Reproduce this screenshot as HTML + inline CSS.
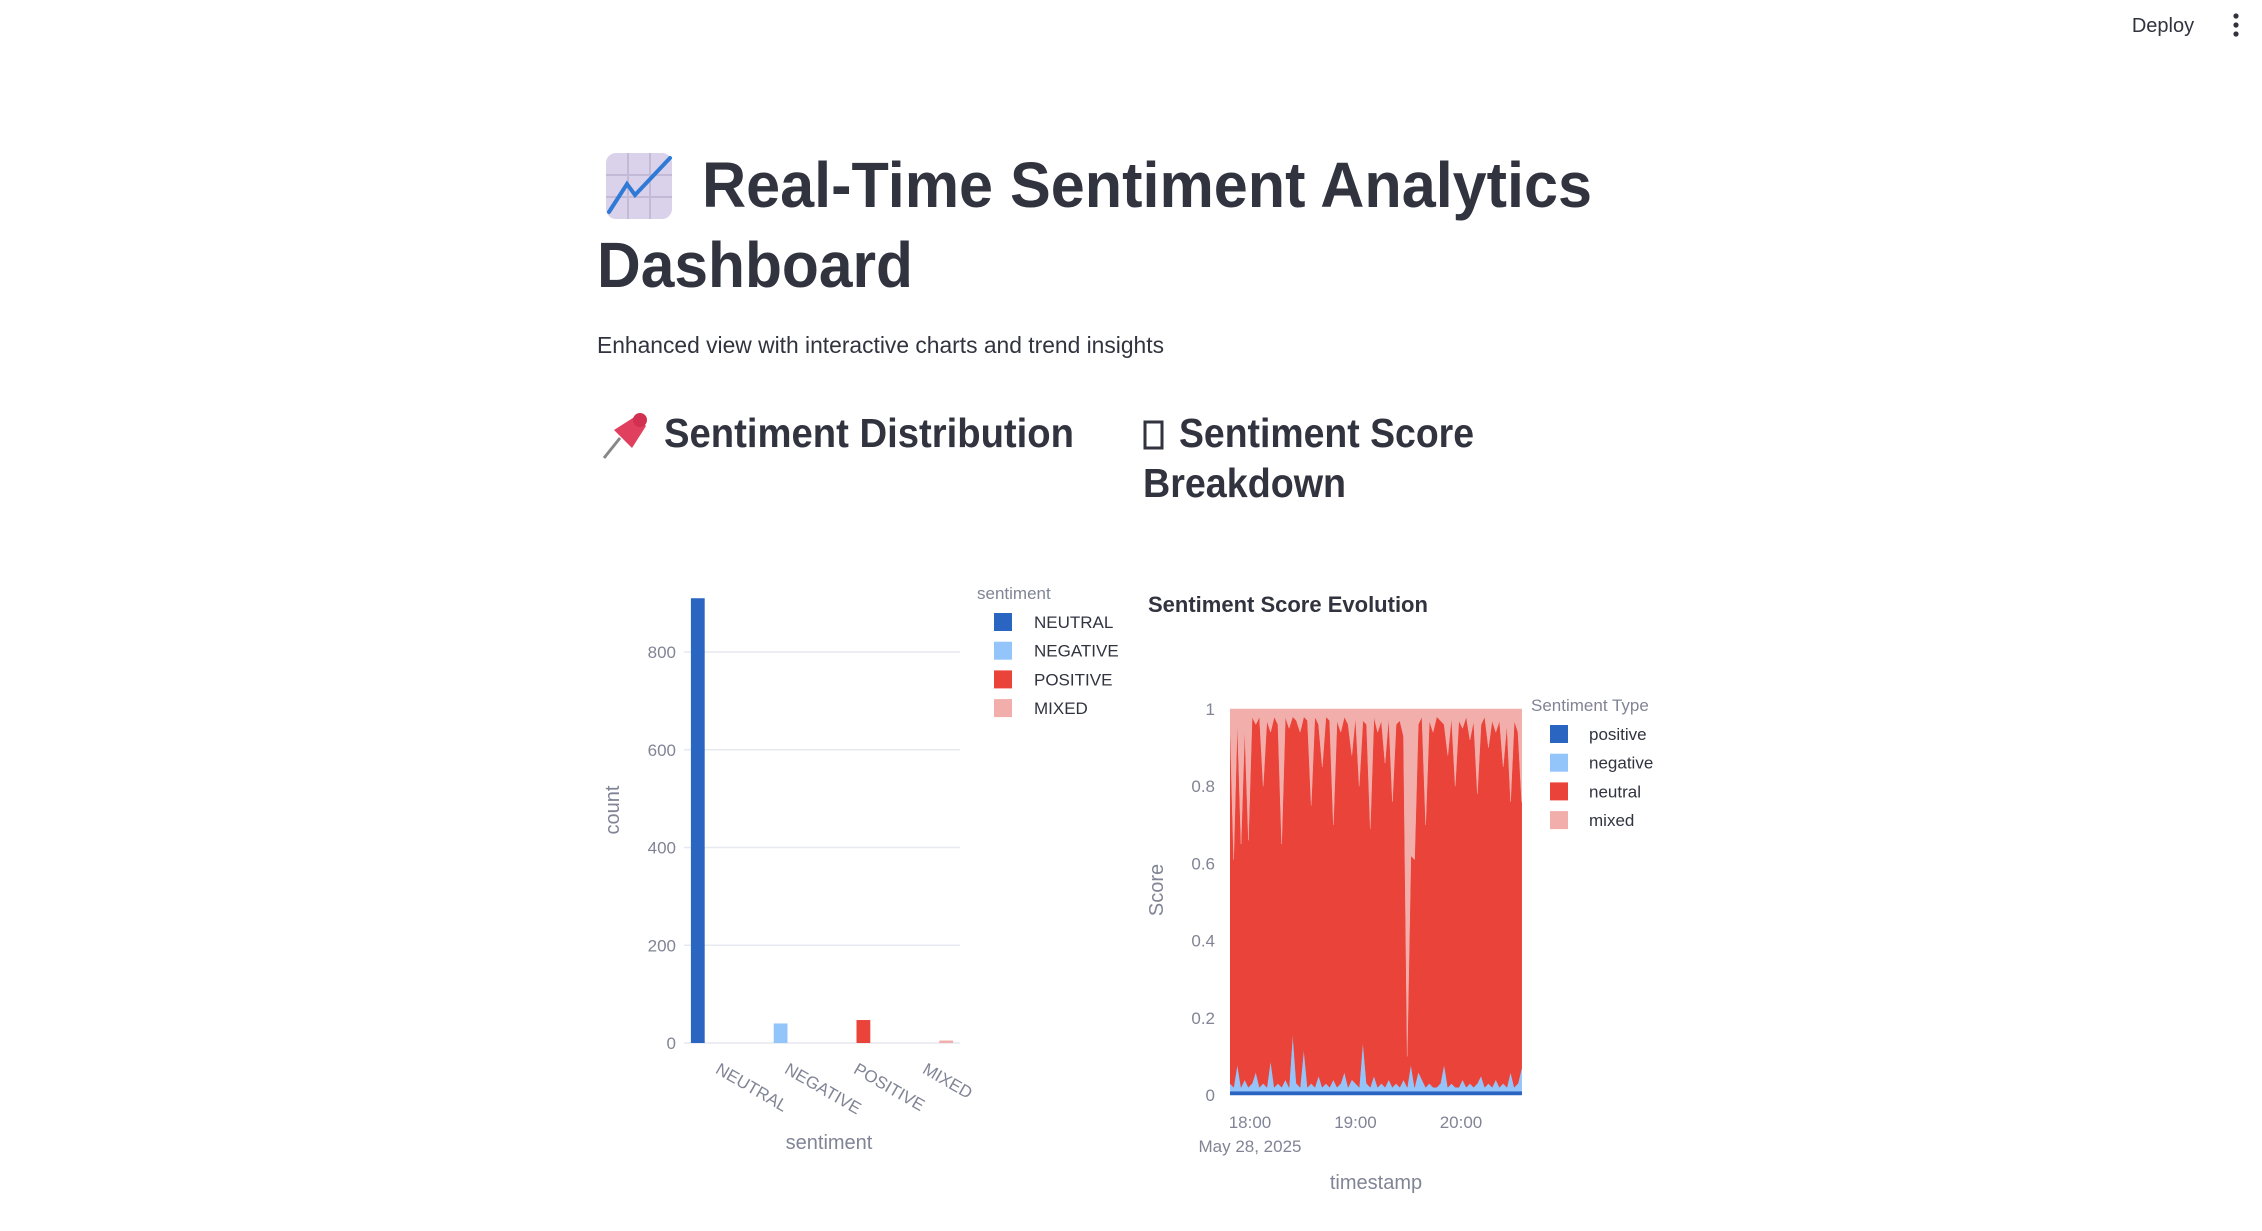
<!DOCTYPE html>
<html><head><meta charset="utf-8"><style>
html,body{margin:0;padding:0;background:#fff;width:2262px;height:1231px;overflow:hidden}
svg{display:block}
text{font-family:"Liberation Sans","DejaVu Sans",sans-serif}
</style></head><body>
<svg id="page" width="2262" height="1231" viewBox="0 0 2262 1231" xmlns="http://www.w3.org/2000/svg">
  <text x="2163" y="32" font-size="20" fill="#31333f" text-anchor="middle">Deploy</text>
  <g fill="#31333f">
    <circle cx="2236" cy="16" r="2.6"/><circle cx="2236" cy="25" r="2.6"/><circle cx="2236" cy="34" r="2.6"/>
  </g>
  <g>
    <rect x="606" y="153" width="66" height="66" rx="10" fill="#d9d2ea"/>
    <path d="M628 153V219M650 153V219M606 175H672M606 197H672" stroke="#c3bad8" stroke-width="2"/>
    <path d="M609 212L627 184L635 195L670 158" stroke="#2f7ad6" stroke-width="4" fill="none" stroke-linecap="round"/>
  </g>
  <text x="702" y="207" font-size="64" font-weight="bold" fill="#31333f" textLength="890" lengthAdjust="spacingAndGlyphs">Real-Time Sentiment Analytics</text>
  <text x="597" y="287" font-size="64" font-weight="bold" fill="#31333f" textLength="316" lengthAdjust="spacingAndGlyphs">Dashboard</text>
  <text x="597" y="353" font-size="23" fill="#31333f" textLength="567" lengthAdjust="spacingAndGlyphs">Enhanced view with interactive charts and trend insights</text>
  <g>
    <line x1="604" y1="458" x2="620" y2="438" stroke="#888" stroke-width="3"/>
    <path d="M614 430L636 416L646 426L632 448Z" fill="#e0405d"/>
    <circle cx="640" cy="420" r="7" fill="#d13050"/>
  </g>
  <text x="664" y="447" font-size="41" font-weight="bold" fill="#31333f" textLength="410" lengthAdjust="spacingAndGlyphs">Sentiment Distribution</text>
  <rect x="1145" y="422" width="17" height="26" fill="none" stroke="#31333f" stroke-width="3"/>
  <text x="1179" y="447" font-size="41" font-weight="bold" fill="#31333f" textLength="295" lengthAdjust="spacingAndGlyphs">Sentiment Score</text>
  <text x="1143" y="497" font-size="41" font-weight="bold" fill="#31333f" textLength="203" lengthAdjust="spacingAndGlyphs">Breakdown</text>

  <g id="bar-chart"></g>
  <g id="area-chart"></g>
</svg>
<script>
const barCategories = ["NEUTRAL","NEGATIVE","POSITIVE","MIXED"];
const barCounts = [910, 40, 47, 5];
const barColors = ["#2b65c2","#93c5fb","#ea4339","#f2aeab"];
const barTicks = [0,200,400,600,800];

const areaSeriesNames = ["positive","negative","neutral","mixed"];
const areaStart = "2025-05-28T17:48:36";
const areaStepMinutes = 2.1;
const positiveScores = [0.01,0.01,0.01,0.01,0.01,0.01,0.01,0.01,0.01,0.01,0.01,0.01,0.01,0.01,0.01,0.01,0.01,0.01,0.01,0.01,0.01,0.01,0.01,0.01,0.01,0.01,0.01,0.01,0.01,0.01,0.01,0.01,0.01,0.01,0.01,0.01,0.01,0.01,0.01,0.01,0.01,0.01,0.01,0.01,0.01,0.01,0.01,0.01,0.01,0.01,0.01,0.01,0.01,0.01,0.01,0.01,0.01,0.01,0.01,0.01,0.01,0.01,0.01,0.01,0.01,0.01,0.01,0.01,0.01,0.01,0.01,0.01,0.01,0.01,0.01,0.01,0.01,0.01,0.01,0.01];
const negativeScores = [0.02,0.01,0.07,0.01,0.03,0.01,0.02,0.05,0.01,0.02,0.01,0.08,0.01,0.02,0.01,0.03,0.01,0.15,0.02,0.01,0.11,0.01,0.02,0.01,0.04,0.01,0.02,0.01,0.03,0.01,0.02,0.05,0.01,0.03,0.02,0.01,0.13,0.02,0.01,0.04,0.01,0.02,0.01,0.03,0.01,0.02,0.01,0.03,0.01,0.07,0.01,0.05,0.03,0.01,0.02,0.01,0.01,0.02,0.07,0.01,0.02,0.01,0.01,0.03,0.01,0.02,0.01,0.02,0.04,0.01,0.02,0.01,0.03,0.01,0.02,0.01,0.05,0.01,0.02,0.06];
const neutralScores = [0.94,0.59,0.89,0.63,0.91,0.64,0.95,0.90,0.96,0.77,0.95,0.85,0.96,0.93,0.63,0.94,0.93,0.82,0.94,0.92,0.86,0.95,0.72,0.96,0.91,0.83,0.95,0.95,0.66,0.95,0.91,0.92,0.94,0.84,0.95,0.78,0.83,0.93,0.67,0.93,0.92,0.94,0.84,0.94,0.74,0.93,0.95,0.89,0.08,0.54,0.59,0.90,0.94,0.68,0.94,0.92,0.96,0.94,0.88,0.86,0.95,0.78,0.95,0.91,0.96,0.89,0.95,0.75,0.91,0.96,0.87,0.95,0.90,0.95,0.82,0.94,0.70,0.95,0.91,0.69];
const mixedScores = [0.03,0.39,0.03,0.35,0.05,0.34,0.02,0.04,0.02,0.20,0.03,0.06,0.02,0.04,0.35,0.02,0.05,0.02,0.03,0.06,0.02,0.03,0.25,0.02,0.04,0.15,0.02,0.03,0.30,0.03,0.06,0.02,0.04,0.12,0.02,0.20,0.03,0.04,0.31,0.02,0.06,0.03,0.14,0.02,0.24,0.04,0.03,0.07,0.90,0.38,0.39,0.04,0.02,0.30,0.03,0.06,0.02,0.03,0.04,0.12,0.02,0.20,0.03,0.05,0.02,0.08,0.03,0.22,0.04,0.02,0.10,0.03,0.06,0.03,0.15,0.04,0.24,0.03,0.06,0.24];
const areaColors = ["#2b65c2","#93c5fb","#ea4339","#f2aeab"];
const areaYTicks = [0,0.2,0.4,0.6,0.8,1];
const areaXTicks = ["2025-05-28T18:00:00","2025-05-28T19:00:00","2025-05-28T20:00:00"];
const areaXTickLabels = ["18:00","19:00","20:00"];

const NS="http://www.w3.org/2000/svg";
function mk(parent, tag, attrs, text){
  const e=document.createElementNS(NS,tag);
  for(const k in attrs) e.setAttribute(k,attrs[k]);
  if(text!==undefined) e.textContent=text;
  parent.appendChild(e); return e;
}
const AX="#808495";

// ---------- bar chart ----------
(function(){
  const g=document.getElementById('bar-chart');
  const L=684,R=960,B=1043,Y800=652;
  const y=v=>B-v*((B-Y800)/800);
  const catW=(R-L)/barCategories.length;
  const slotW=catW*0.8/barCategories.length;
  barTicks.forEach(t=>{
    const gl=mk(g,'line',{x1:L,x2:R,y1:y(t),y2:y(t),stroke:'#e6e9ef','stroke-width':1.5});
    
    
    const tl=mk(g,'text',{x:676,y:y(t)+6,'font-size':17,fill:AX,'text-anchor':'end'},String(t));
    
    
  });
  barCategories.forEach((c,i)=>{
    const cx=L+catW*(i+0.5);
    const x0=cx-catW*0.4+slotW*i;
    const r=mk(g,'rect',{x:x0,y:y(barCounts[i]),width:slotW,height:B-y(barCounts[i]),fill:barColors[i]});
    
    
    const tl=mk(g,'text',{x:cx+2,y:1062,'font-size':17,fill:AX,transform:`rotate(30 ${cx+2} 1062)`,'dominant-baseline':'hanging'},c);
    
    
    const ly=622+i*28.7;
    const sw=mk(g,'rect',{x:994,y:ly-9,width:18,height:18,fill:barColors[i]});
    
    
    const lt=mk(g,'text',{x:1034,y:ly+6,'font-size':17,fill:'#31333f'},c);
    
    
  });
  const lt=mk(g,'text',{x:977,y:599,'font-size':17,fill:AX},'sentiment');
  
  
  const xt=mk(g,'text',{x:829,y:1149,'font-size':20,fill:AX,'text-anchor':'middle'},'sentiment');
  
  
  const yt=mk(g,'text',{x:0,y:0,'font-size':20,fill:AX,'text-anchor':'middle',transform:'translate(619 810) rotate(-90)'},'count');
  
  
})();

// ---------- stacked area chart ----------
(function(){
  const g=document.getElementById('area-chart');
  const L=1230,R=1522,T=709,B=1095;
  const t18=new Date("2025-05-28T18:00:00").getTime();
  const pxPerMin=105.5/60;
  const xT=ms=>1250+(ms-t18)/60000*pxPerMin;
  const y=v=>B-v*(B-T);
  const start=new Date(areaStart).getTime();
  const n=mixedScores.length;
  const xs=[];for(let i=0;i<n;i++) xs.push(xT(start+i*areaStepMinutes*60000));
  const series=[positiveScores,negativeScores,neutralScores,mixedScores];
  let base=new Array(n).fill(0);
  const tl=mk(g,'text',{x:1148,y:612,'font-size':22,'font-weight':'bold',fill:'#31333f'},'Sentiment Score Evolution');
  
  
  const clip=mk(g,'clipPath',{id:'areaclip'});
  mk(clip,'rect',{x:L,y:T-2,width:R-L,height:B-T+4});
  const layer=mk(g,'g',{'clip-path':'url(#areaclip)'});
  const cum=[];
  series.forEach((s,k)=>{const top=base.map((b,i)=>b+s[i]);cum.push({lo:base,hi:top});base=top;});
  cum.forEach((c,k)=>{
    let d='M'+xs[0]+' '+y(c.hi[0]);
    for(let i=1;i<n;i++) d+=' L'+xs[i]+' '+y(c.hi[i]);
    for(let i=n-1;i>=0;i--) d+=' L'+xs[i]+' '+y(c.lo[i]);
    d+='Z';
    const p=mk(layer,'path',{d:d,fill:areaColors[k],stroke:areaColors[k],'stroke-width':0.5});
    
    
  });
  areaYTicks.forEach(t=>{
    const l=mk(g,'text',{x:1215,y:y(t)+6,'font-size':17,fill:AX,'text-anchor':'end'},String(t));
    
    
  });
  areaXTicks.forEach((t,i)=>{
    const x=xT(new Date(t).getTime());
    const l=mk(g,'text',{x:x,y:1128,'font-size':17,fill:AX,'text-anchor':'middle'},areaXTickLabels[i]);
    
    
  });
  const dl=mk(g,'text',{x:1250,y:1152,'font-size':17,fill:AX,'text-anchor':'middle'},'May 28, 2025');
  
  
  const xt=mk(g,'text',{x:1376,y:1189,'font-size':20,fill:AX,'text-anchor':'middle'},'timestamp');
  
  
  const yt=mk(g,'text',{x:0,y:0,'font-size':20,fill:AX,'text-anchor':'middle',transform:'translate(1163 890) rotate(-90)'},'Score');
  
  
  const lgt=mk(g,'text',{x:1531,y:711,'font-size':17,fill:AX},'Sentiment Type');
  
  
  areaSeriesNames.forEach((s,i)=>{
    const ly=734+i*28.7;
    const sw=mk(g,'rect',{x:1550,y:ly-9,width:18,height:18,fill:areaColors[i]});
    
    
    const lt=mk(g,'text',{x:1589,y:ly+6,'font-size':17,fill:'#31333f'},s);
    
    
  });
})();
</script>
</body></html>
